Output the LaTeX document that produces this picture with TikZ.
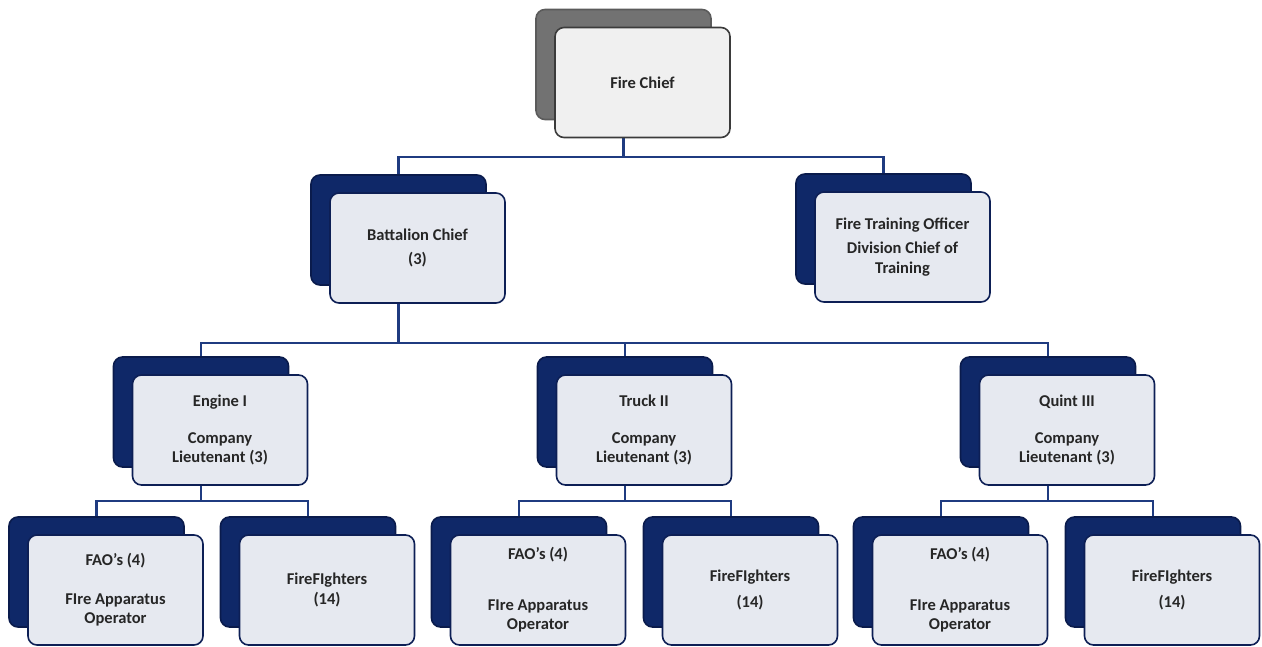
\documentclass[tikz,border=0pt]{standalone}
\usepackage{fontspec}
\setmainfont{Carlito}
\usepackage{tikz}
\usetikzlibrary{shadows,backgrounds}

\definecolor{navyback}{HTML}{0F2868}
\definecolor{navyedge}{HTML}{0A1B4C}
\definecolor{cardfill}{HTML}{E6E9F0}
\definecolor{cardedge}{HTML}{0D1F55}
\definecolor{linkblue}{HTML}{1F3B80}
\definecolor{chiefback}{HTML}{727272}
\definecolor{chiefedge}{HTML}{3B3B3B}
\definecolor{chieffill}{HTML}{F0F0F0}

\begin{document}
\begin{tikzpicture}[x=1pt,y=-1pt,
    cardbase/.style={line width=1.6pt,rounded corners=9pt,minimum width=175pt,
      minimum height=110pt,align=center,text=black!85,
      font=\fontsize{16.5}{19.5}\selectfont\bfseries},
    card/.style={cardbase,draw=cardedge,fill=cardfill,
      general shadow={shadow xshift=-19pt,shadow yshift=18pt,fill=navyback,draw=navyedge}},
    chiefcard/.style={cardbase,draw=chiefedge,fill=chieffill,
      general shadow={shadow xshift=-19pt,shadow yshift=18pt,fill=chiefback,draw=chiefback!80!black}},
    link/.style={draw=linkblue,line width=2.2pt}]
  \useasboundingbox (0,0) rectangle (1262,647);

  \draw (642.5,82.5) node[chiefcard] (chief) {Fire Chief};

  \draw (417.5,248) node[card] (batt) {Battalion Chief\\[5pt](3)};
  \draw (902.5,247) node[card] (fto) {Fire Training Officer\\[5pt]Division Chief of\\Training};

  \draw (220,430) node[card] (engine) {Engine I\\[17pt]Company\\Lieutenant (3)};
  \draw (644,430) node[card] (truck) {Truck II\\[17pt]Company\\Lieutenant (3)};
  \draw (1067,430) node[card] (quint) {Quint III\\[17pt]Company\\Lieutenant (3)};

  \draw (115.5,590) node[card] (fao1) {FAO's (4)\\[19pt]FIre Apparatus\\Operator};
  \draw (327,590) node[card] (ff1) {FireFIghters\\(14)};
  \draw (538,590) node[card] (fao2) {FAO's (4)\\[31pt]FIre Apparatus\\Operator};
  \draw (750,590) node[card] (ff2) {FireFIghters\\[6pt](14)};
  \draw (960,590) node[card] (fao3) {FAO's (4)\\[31pt]FIre Apparatus\\Operator};
  \draw (1172,590) node[card] (ff3) {FireFIghters\\[6pt](14)};

  \begin{scope}[on background layer]
    \draw[link] ([xshift=-19pt]chief.south) -- ++(0,19) -| ([xshift=-19pt,yshift=18pt]batt.north);
    \draw[link] ([xshift=-19pt]chief.south) -- ++(0,19) -| ([xshift=-19pt,yshift=18pt]fto.north);

    \draw[link] ([xshift=-19pt]batt.south) -- ++(0,39) -| ([xshift=-19pt,yshift=18pt]engine.north);
    \draw[link] ([xshift=-19pt]batt.south) -- ++(0,39) -| ([xshift=-19pt,yshift=18pt]truck.north);
    \draw[link] ([xshift=-19pt]batt.south) -- ++(0,39) -| ([xshift=-19pt,yshift=18pt]quint.north);

    \draw[link] ([xshift=-19pt]engine.south) -- ++(0,15) -| ([xshift=-19pt,yshift=18pt]fao1.north);
    \draw[link] ([xshift=-19pt]engine.south) -- ++(0,15) -| ([xshift=-19pt,yshift=18pt]ff1.north);
    \draw[link] ([xshift=-19pt]truck.south) -- ++(0,15) -| ([xshift=-19pt,yshift=18pt]fao2.north);
    \draw[link] ([xshift=-19pt]truck.south) -- ++(0,15) -| ([xshift=-19pt,yshift=18pt]ff2.north);
    \draw[link] ([xshift=-19pt]quint.south) -- ++(0,15) -| ([xshift=-19pt,yshift=18pt]fao3.north);
    \draw[link] ([xshift=-19pt]quint.south) -- ++(0,15) -| ([xshift=-19pt,yshift=18pt]ff3.north);
  \end{scope}
\end{tikzpicture}
\end{document}
